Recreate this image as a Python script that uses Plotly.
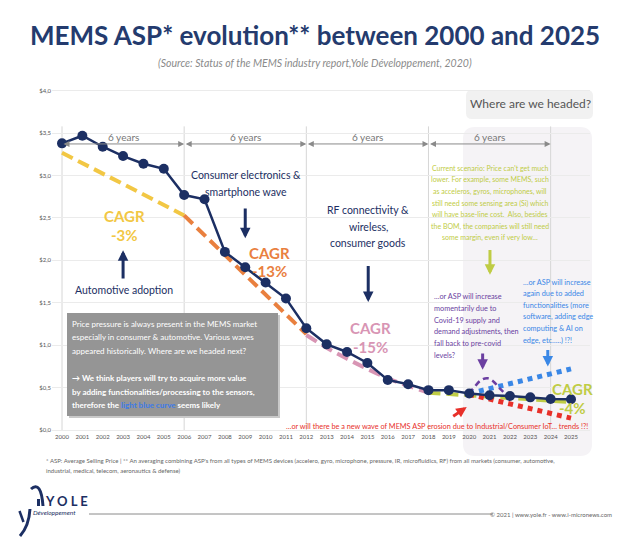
import plotly.graph_objects as go

# ---------------- data ----------------
years = list(range(2000, 2026))
asp = [3.38, 3.47, 3.34, 3.23, 3.14, 3.08, 2.77, 2.72, 2.10, 1.92, 1.74, 1.55, 1.20,
       1.01, 0.92, 0.79, 0.59, 0.54, 0.47, 0.47, 0.43, 0.41, 0.40, 0.385, 0.366, 0.362]

yellow_x = [2000, 2006]
yellow_y = [3.27, 2.53]
orange_x = [2006, 2012]
orange_y = [2.53, 1.13]
pink_x = [2012, 2013, 2014, 2015, 2016, 2017, 2018]
pink_y = [1.12, 0.97, 0.84, 0.72, 0.61, 0.52, 0.44]
green_x = [2018, 2025]
green_y = [0.44, 0.33]
red_x = [2020, 2025]
red_y = [0.42, 0.14]
blue_x = [2020, 2025]
blue_y = [0.43, 0.72]
covid_x = [2020.0, 2020.3, 2020.6, 2020.9, 2021.2, 2021.5, 2021.8]
covid_y = [0.43, 0.52, 0.59, 0.61, 0.57, 0.49, 0.42]

period_edges = [2000, 2006, 2012, 2018, 2024]
period_label = "6 years"

ytick_vals = [0, 0.5, 1.0, 1.5, 2.0, 2.5, 3.0, 3.5, 4.0]
ytick_text = ["$0,0", "$0,5", "$1,0", "$1,5", "$2,0", "$2,5", "$3,0", "$3,5", "$4,0"]

title = "MEMS ASP* evolution** between 2000 and 2025"
subtitle = "(Source: Status of the MEMS industry report,Yole Développement, 2020)"

green_lines = ["Current scenario: Price can't get much",
               "lower. For example, some MEMS, such",
               "as acceleros, gyros, microphones, will",
               "still need some sensing area (Si) which",
               "will have base-line cost.  Also, besides",
               "the BOM, the companies will still need",
               "some margin, even if very low…"]
purple_lines = ["…or ASP will increase", "momentarily due to", "Covid-19 supply and",
                "demand adjustments, then", "fall back to pre-covid", "levels?"]
blue_lines = ["…or ASP will increase", "again due to added", "functionalities (more",
              "software, adding edge", "computing & AI on", "edge, etc…..) !?!"]
gray_lines = ["Price pressure is always present in the MEMS market",
              "especially in consumer & automotive. Various waves",
              "appeared historically. Where are we headed next?",
              "<b>→ We think players will try to acquire more value</b>",
              "<b>by adding functionalities/processing to the sensors,</b>",
              "<b>therefore the <span style='color:#3d7be6'>light blue curve</span> seems likely</b>"]
red_text = "…or will there be a new wave of MEMS ASP erosion due to Industrial/Consumer IoT… trends !?!"
footnote = ["* ASP: Average Selling Price | ** An averaging combining ASP's from all types of MEMS devices (accelero, gyro, microphone, pressure, IR, microfluidics, RF) from all markets (consumer, automotive,",
            "industrial, medical, telecom, aeronautics & defense)"]

# ---------------- layout geometry ----------------
OFF = 8                      # page body margin of the browser
W, H = 630 - OFF, 540 - OFF
L, R, T, B = 52, 590, 85, 432   # plot area in page pixels
FONT = "Lato"
NAVY = "#1c2f63"
YEL, ORA, PNK, GRN = "#f2c744", "#e9803f", "#d895b4", "#bfcc45"
RED, BLU, PUR = "#e8302a", "#3a87e6", "#6b3fa1"


def px(x):
    return (x - L) / (R - L)


def py(y):
    return (B - y) / (B - T)


def pt(x, y):
    return f"{px(x):.5f},{py(y):.5f}"


fig = go.Figure()

dash_long = "12px,6px"
fig.add_trace(go.Scatter(x=yellow_x, y=yellow_y, mode="lines",
                         line=dict(color=YEL, width=4, dash=dash_long)))
fig.add_trace(go.Scatter(x=orange_x, y=orange_y, mode="lines",
                         line=dict(color=ORA, width=4, dash=dash_long)))
fig.add_trace(go.Scatter(x=pink_x, y=pink_y, mode="lines",
                         line=dict(color=PNK, width=4, dash=dash_long, shape="spline")))
fig.add_trace(go.Scatter(x=green_x, y=green_y, mode="lines",
                         line=dict(color=GRN, width=4, dash=dash_long)))
fig.add_trace(go.Scatter(x=red_x, y=red_y, mode="lines",
                         line=dict(color=RED, width=5, dash="dot")))
fig.add_trace(go.Scatter(x=blue_x, y=blue_y, mode="lines",
                         line=dict(color=BLU, width=5, dash="dot")))
fig.add_trace(go.Scatter(x=covid_x, y=covid_y, mode="lines",
                         line=dict(color=PUR, width=2.5, dash="6px,4px", shape="spline")))
fig.add_trace(go.Scatter(x=years, y=asp, mode="lines+markers",
                         line=dict(color=NAVY, width=2.5),
                         marker=dict(color=NAVY, size=10)))

shapes = []


def rr(x0, y0, x1, y1, r):
    pts = [("M", (x0 + r, y0)), ("L", (x1 - r, y0)), ("Q", (x1, y0), (x1, y0 + r)),
           ("L", (x1, y1 - r)), ("Q", (x1, y1), (x1 - r, y1)), ("L", (x0 + r, y1)),
           ("Q", (x0, y1), (x0, y1 - r)), ("L", (x0, y0 + r)), ("Q", (x0, y0), (x0 + r, y0))]
    s = ""
    for p in pts:
        s += p[0] + " " + " ".join(pt(a, b) for a, b in p[1:]) + " "
    return s + "Z"


shapes.append(dict(type="path", xref="paper", yref="paper", path=rr(463, 127, 592, 456, 12),
                   fillcolor="#f5f3f6", line=dict(width=0), layer="below"))
shapes.append(dict(type="path", xref="paper", yref="paper", path=rr(466, 90, 593, 119, 6),
                   fillcolor="#f1f1f1", line=dict(width=0), layer="below"))
for e in period_edges:
    shapes.append(dict(type="line", xref="x", yref="y", x0=e, x1=e, y0=0, y1=3.58,
                       line=dict(color="#d6d6d6", width=1), layer="below"))
shapes.append(dict(type="rect", xref="paper", yref="paper", x0=px(69), x1=px(280),
                   y0=py(418), y1=py(315), fillcolor="#c9c9c9", line=dict(width=0)))
shapes.append(dict(type="rect", xref="paper", yref="paper", x0=px(67), x1=px(278),
                   y0=py(416), y1=py(313), fillcolor="#959595", line=dict(width=0)))
shapes.append(dict(type="line", xref="paper", yref="paper", x0=px(89), x1=px(493),
                   y0=py(514), y1=py(514), line=dict(color="#8a8a8a", width=1)))
# logo marks
logo_line = dict(color=NAVY, width=3)
shapes.append(dict(type="path", xref="paper", yref="paper",
                   path=f"M {pt(31, 489)} Q {pt(41, 480)} {pt(43, 506)}", line=logo_line))
shapes.append(dict(type="line", xref="paper", yref="paper", x0=px(38.5), x1=px(38.5),
                   y0=py(499), y1=py(506), line=logo_line))
shapes.append(dict(type="line", xref="paper", yref="paper", x0=px(19.5), x1=px(23.5),
                   y0=py(511), y1=py(522), line=dict(color=NAVY, width=2.5)))
shapes.append(dict(type="path", xref="paper", yref="paper",
                   path=f"M {pt(30, 509)} Q {pt(29, 526)} {pt(20, 536)}", line=logo_line))

ann = []


def text(x, y, t, size, color, anchor="center"):
    ann.append(dict(x=px(x), y=py(y), xref="paper", yref="paper", text=t, showarrow=False,
                    xanchor=anchor, yanchor="middle", borderpad=0,
                    font=dict(family=FONT, size=size, color=color)))


def block(lines, x, y0, dy, size, color, anchor="center"):
    for i, t in enumerate(lines):
        text(x, y0 + i * dy, t, size, color, anchor)


def arrow(x, y, ax, ay, color, width=3, size=0.7, head=2, side="end"):
    ann.append(dict(x=x, y=y, ax=ax, ay=ay, xref="x", yref="y", axref="x", ayref="y",
                    text="", showarrow=True, arrowhead=head, arrowsize=size,
                    arrowwidth=width, arrowcolor=color, arrowside=side,
                    standoff=0, startstandoff=0))


text(315, 35, f"<b>{title}</b>", 26, "#243b6e")
text(315, 63, f"<i>{subtitle}</i>", 10.5, "#8a8a8a")
text(530, 104, "Where are we headed?", 12, "#555555")

for a, b in zip(period_edges[:-1], period_edges[1:]):
    arrow(b, 3.373, a, 3.373, "#8a8a8a", width=1, size=1.2, head=2, side="end+start")
    ann.append(dict(x=(a + b) / 2, y=3.46, xref="x", yref="y", text=period_label,
                    showarrow=False, font=dict(family=FONT, size=10, color="#777777")))

block(["Consumer electronics &", "smartphone wave"], 246, 175, 17.3, 10.5, NAVY)
arrow(2009, 2.26, 2009, 2.63, NAVY)
text(124, 289.5, "Automotive adoption", 10.5, NAVY)
arrow(2003, 2.12, 2003, 1.77, NAVY)
block(["RF connectivity &", "wireless,", "consumer goods"], 368, 210, 16.7, 10.5, NAVY)
arrow(2015.04, 1.51, 2015.04, 1.95, NAVY)

block(["<b>CAGR</b>", "<b>-3%</b>"], 124, 216, 18.5, 15, YEL)
block(["<b>CAGR</b>", "<b>-13%</b>"], 269, 252.5, 18.5, 15, ORA)
block(["<b>CAGR</b>", "<b>-15%</b>"], 370, 327.5, 19, 15, PNK)
block(["<b>CAGR</b>", "<b>-4%</b>"], 572, 389, 19, 15, GRN)

block(green_lines, 490, 168.3, 11.6, 7, GRN)
arrow(2021.02, 1.83, 2021.02, 2.14, GRN)
block(purple_lines, 432.5, 296.7, 11.7, 7.3, PUR, anchor="left")
arrow(2020.66, 0.71, 2020.66, 0.92, PUR)
block(blue_lines, 521.5, 282, 11.6, 7.3, BLU, anchor="left")
arrow(2023.86, 0.75, 2023.86, 0.96, BLU)
text(436.5, 426.7, red_text, 7.3, RED)
arrow(2019.88, 0.27, 2019.14, 0.15, RED)

for t, yy in zip(gray_lines, [323.5, 337, 350.5, 378, 391.5, 405]):
    text(71, yy, t, 8, "#ffffff", anchor="left")

block(footnote, 45, 460, 10.5, 6, "#666666", anchor="left")
text(66.5, 501, "<b>Y O L E</b>", 13, NAVY)
text(32, 513, "<i>Développement</i>", 6.5, NAVY, anchor="left")
text(613, 514, "© 2021 | www.yole.fr - www.i-micronews.com", 6, "#666666", anchor="right")

fig.update_layout(
    width=W, height=H,
    margin=dict(l=L - OFF, r=630 - R, t=T - OFF, b=540 - B),
    paper_bgcolor="white", plot_bgcolor="white",
    showlegend=False, hovermode=False,
    font=dict(family=FONT),
    shapes=shapes, annotations=ann,
    xaxis=dict(range=[1999.509, 2025.933], tickvals=years, ticktext=[str(y) for y in years],
               showgrid=False, zeroline=False, showline=False,
               tickfont=dict(size=6, color="#555555"), fixedrange=True),
    yaxis=dict(range=[-0.0236, 4.068], tickvals=ytick_vals, ticktext=ytick_text,
               showgrid=True, gridcolor="#ebebeb", gridwidth=1, zeroline=False,
               showline=False, tickfont=dict(size=6, color="#555555"), fixedrange=True),
)

fig.write_html("out.html")
